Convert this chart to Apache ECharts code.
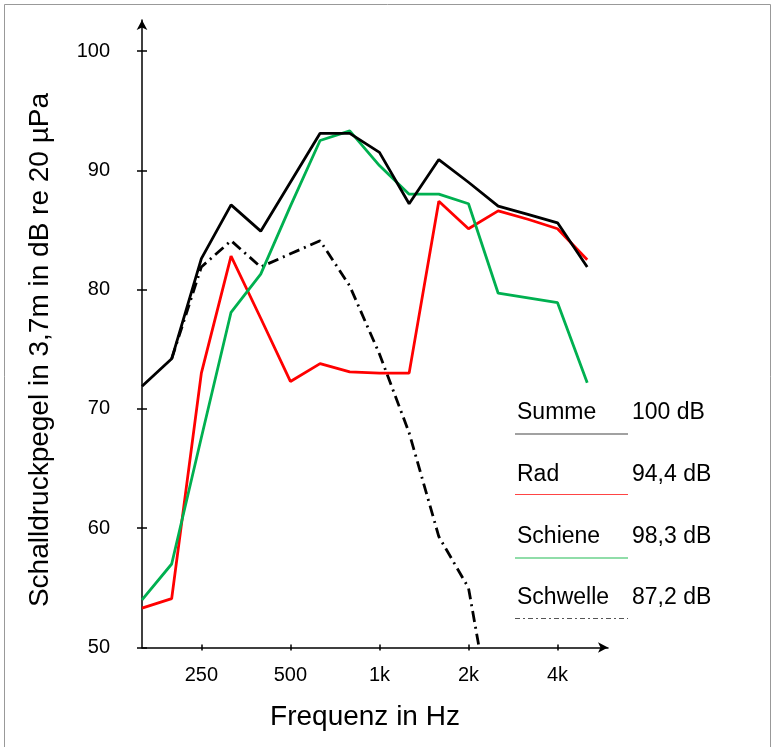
<!DOCTYPE html>
<html>
<head>
<meta charset="utf-8">
<script src="https://cdn.jsdelivr.net/npm/echarts@6/dist/echarts.min.js"></script>
<style>
html,body{margin:0;padding:0;background:#fff;}
#chart{width:775px;height:747px;}
</style>
</head>
<body>
<div id="chart"></div>
<script>
// Third-octave bands (Hz)
const bands = ['160','200','250','315','400','500','630','800','1k','1.25k','1.6k','2k','2.5k','3.15k','4k','5k'];
const tickLabels = ['250','500','1k','2k','4k'];
const yTicks = [50,60,70,80,90,100];

const summe    = [71.9, 74.2, 82.6, 87.1, 84.9, 89.0, 93.1, 93.1, 91.5, 87.2, 90.9, 89.0, 87.0, 86.3, 85.6, 81.9];
const rad      = [53.3, 54.1, 73.0, 82.8, 77.6, 72.3, 73.8, 73.1, 73.0, 73.0, 87.4, 85.1, 86.6, 85.9, 85.1, 82.5];
const schiene  = [54.0, 57.0, 67.6, 78.1, 81.3, 87.0, 92.5, 93.3, 90.4, 88.0, 88.0, 87.2, 79.7, 79.3, 78.9, 72.2];
const schwelle = [null, 74.2, 81.9, 84.1, 81.9, 83.0, 84.1, 80.3, 74.6, 68.0, 59.3, 55.0, 41.0, null, null, null];

const legendNames  = ['Summe','Rad','Schiene','Schwelle'];
const legendValues = ['100 dB','94,4 dB','98,3 dB','87,2 dB'];

const FONT = "'Liberation Sans', Arial, sans-serif";
const tickPos = tickLabels.map(l => bands.indexOf(l));
const toPts = arr => arr.map((v,i) => [i, v]);

const colors = ['#000000','#ff0000','#00b050','#000000'];
const legendLineColors = ['#444444','#ff4444','#22bb55','#555555'];
const legendLineDash = [null, null, null, [5,3,2,3]];

const chart = echarts.init(document.getElementById('chart'), null, {renderer:'canvas'});

const graphics = [
  {type:'rect', shape:{x:4.5,y:4.5,width:766,height:800}, style:{fill:'none', stroke:'#999', lineWidth:1}, silent:true},
  {type:'text', x:365, y:717, style:{text:'Frequenz in Hz', font:'28px ' + FONT, fill:'#000', align:'center', verticalAlign:'middle'}},
  {type:'text', x:40, y:350, rotation:Math.PI/2, style:{text:'Schalldruckpegel in 3,7m in dB re 20 µPa', font:'28px ' + FONT, fill:'#000', align:'center', verticalAlign:'middle'}}
];
const rowY = [413, 475, 537, 598];
const lineY = [434, 494.5, 558, 618.5];
legendNames.forEach((n, k) => {
  graphics.push({type:'text', x:517, y:rowY[k], style:{text:n, font:'23px ' + FONT, fill:'#000', align:'left', verticalAlign:'middle'}});
  graphics.push({type:'text', x:632, y:rowY[k], style:{text:legendValues[k], font:'23px ' + FONT, fill:'#000', align:'left', verticalAlign:'middle'}});
  graphics.push({type:'line', shape:{x1:515, y1:lineY[k], x2:628, y2:lineY[k]}, style:{stroke:legendLineColors[k], lineWidth:1.2, lineDash:legendLineDash[k]}});
});

const option = {
  animation:false,
  backgroundColor:'#fff',
  grid:{left:142, right:167, top:20, bottom:99.5, containLabel:false},
  xAxis:[
    {type:'value', min:0, max:15.7, position:'bottom',
     axisLine:{show:true, onZero:false, lineStyle:{color:'#000', width:1.5}, symbol:['none','arrow'], symbolSize:[8,10]},
     axisTick:{show:true, customValues:tickPos, length:3, lineStyle:{color:'#000', width:1.5}},
     axisLabel:{show:true, customValues:tickPos, formatter:v => tickLabels[tickPos.indexOf(v)] || '', margin:18, fontSize:20, color:'#000', fontFamily:FONT},
     splitLine:{show:false}},
    {type:'value', min:0, max:15.7, position:'bottom', gridIndex:0,
     axisLine:{show:false},
     axisTick:{show:true, inside:true, customValues:tickPos, length:3, lineStyle:{color:'#000', width:1.5}},
     axisLabel:{show:false}, splitLine:{show:false}}
  ],
  yAxis:[
    {type:'value', min:50, max:102.6, position:'left',
     axisLine:{show:true, onZero:false, lineStyle:{color:'#000', width:1.5}, symbol:['none','arrow'], symbolSize:[8,10]},
     axisTick:{show:true, customValues:yTicks, length:5, lineStyle:{color:'#000', width:1.5}},
     axisLabel:{show:true, customValues:yTicks, margin:32, fontSize:20, color:'#000', fontFamily:FONT},
     splitLine:{show:false}},
    {type:'value', min:50, max:102.6, position:'left', gridIndex:0,
     axisLine:{show:false},
     axisTick:{show:true, inside:true, customValues:yTicks, length:5, lineStyle:{color:'#000', width:1.5}},
     axisLabel:{show:false}, splitLine:{show:false}}
  ],
  series:[
    {name:'Schwelle', type:'line', data:toPts(schwelle), symbol:'none', clip:true, connectNulls:false,
     lineStyle:{color:colors[3], width:2.8, type:[11,5,2,5]}},
    {name:'Rad', type:'line', data:toPts(rad), symbol:'none', lineStyle:{color:colors[1], width:2.8}},
    {name:'Schiene', type:'line', data:toPts(schiene), symbol:'none', lineStyle:{color:colors[2], width:2.8}},
    {name:'Summe', type:'line', data:toPts(summe), symbol:'none', lineStyle:{color:colors[0], width:2.8}}
  ],
  graphic:graphics
};
chart.setOption(option);
</script>
</body>
</html>
